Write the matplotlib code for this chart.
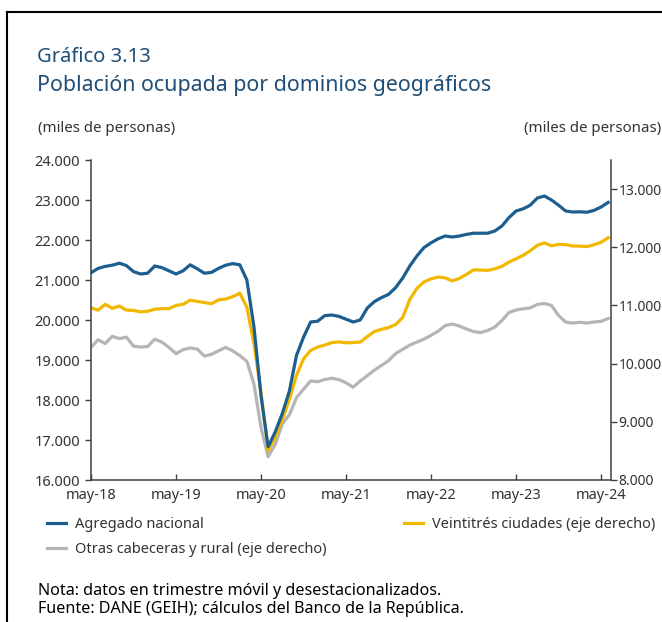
import numpy as np
import matplotlib.pyplot as plt
from matplotlib.lines import Line2D
from matplotlib.ticker import FuncFormatter

plt.rcParams['font.family'] = ['Noto Sans', 'DejaVu Sans']

# meses: may-18 ... jun-24 (trimestre movil)
etiquetas = ['may-18', 'may-19', 'may-20', 'may-21', 'may-22', 'may-23', 'may-24']
pos_etiquetas = [0, 12, 24, 36, 48, 60, 72]

# Agregado nacional (eje izquierdo, miles de personas)
nacional = [21180, 21290, 21340, 21370, 21420, 21360, 21210, 21150, 21170, 21350,
            21310, 21230, 21150, 21230, 21380, 21280, 21170, 21190, 21290, 21370,
            21410, 21380, 21000, 19830, 18100, 16830, 17200, 17660, 18220, 19110,
            19570, 19950, 19970, 20110, 20125, 20090, 20020, 19950, 20000, 20300,
            20460, 20560, 20640, 20810, 21050, 21350, 21600, 21810, 21930, 22030,
            22100, 22075, 22100, 22140, 22170, 22170, 22170, 22225, 22350, 22560,
            22725, 22780, 22870, 23050, 23100, 23000, 22870, 22725, 22700, 22705,
            22695, 22740, 22825, 22940]

# Veintitres ciudades (eje derecho)
ciudades = [10960, 10920, 11020, 10950, 10990, 10920, 10915, 10890, 10900, 10935,
            10945, 10945, 11000, 11020, 11090, 11070, 11050, 11030, 11095, 11110,
            11150, 11210, 10970, 10340, 9510, 8500, 8731, 9036, 9379, 9796,
            10081, 10227, 10286, 10319, 10362, 10374, 10358, 10362, 10370, 10465,
            10552, 10590, 10620, 10672, 10793, 11103, 11293, 11405, 11457, 11488,
            11474, 11422, 11465, 11534, 11612, 11608, 11603, 11629, 11672, 11746,
            11802, 11862, 11940, 12034, 12075, 12025, 12050, 12046, 12022, 12020,
            12012, 12043, 12086, 12164]

# Otras cabeceras y rural (eje derecho)
otras = [10280, 10410, 10345, 10470, 10430, 10455, 10300, 10285, 10295, 10420,
         10370, 10280, 10170, 10240, 10270, 10250, 10130, 10160, 10220, 10280,
         10220, 10140, 10040, 9650, 8900, 8400, 8607, 8965, 9121, 9414,
         9562, 9702, 9690, 9727, 9750, 9724, 9672, 9595, 9702, 9793,
         9888, 9969, 10052, 10172, 10245, 10319, 10370, 10422, 10486, 10557,
         10655, 10681, 10646, 10595, 10552, 10534, 10569, 10629, 10741, 10879,
         10922, 10943, 10957, 11017, 11034, 11000, 10827, 10715, 10698, 10710,
         10698, 10715, 10727, 10776]

azul = '#1c5f8e'
amarillo = '#f2b800'
gris = '#b5b5b5'
texto = '#333333'
eje = '#404040'

fig = plt.figure(figsize=(6.62, 6.22), dpi=100)
ax = fig.add_axes([91/662, 1-480/622, 520/662, 320/622])
ax2 = ax.twinx()

x = np.arange(len(nacional))
l3, = ax2.plot(x, otras, color=gris, lw=2.3, solid_joinstyle='round')
l2, = ax2.plot(x, ciudades, color=amarillo, lw=2.3, solid_joinstyle='round')
l1, = ax.plot(x, nacional, color=azul, lw=2.3, solid_joinstyle='round')
ax.set_zorder(ax2.get_zorder() + 1)
ax.patch.set_visible(False)

ax.set_xlim(0, 73.4)
ax.set_ylim(16000, 24000)
ax2.set_ylim(8000, 13500)
ax.set_yticks(range(16000, 24001, 1000))
ax2.set_yticks(range(8000, 13001, 1000))
fmt = FuncFormatter(lambda v, p: f'{v:,.0f}'.replace(',', '.'))
ax.yaxis.set_major_formatter(fmt)
ax2.yaxis.set_major_formatter(fmt)
ax.set_xticks(pos_etiquetas)
ax.set_xticklabels(etiquetas)

for a in (ax, ax2):
    a.spines['top'].set_visible(False)
    for s in ('left', 'right', 'bottom'):
        a.spines[s].set_color(eje)
        a.spines[s].set_linewidth(1.1)
ax.spines['right'].set_visible(False)
ax2.spines['left'].set_visible(False)
ax2.spines['bottom'].set_visible(False)

ax.tick_params(axis='y', length=4, width=1, color=eje, labelsize=10.5, labelcolor=texto, pad=4)
ax2.tick_params(axis='y', length=4, width=1, color=eje, labelsize=10, labelcolor=texto, pad=1.5)
ax.tick_params(axis='x', direction='in', length=4, width=1, color=eje, labelsize=10.5,
               labelcolor=texto, pad=6)

# marco
fig.add_artist(Line2D([7/662, 7/662], [0, 1-12/622], transform=fig.transFigure, color='black', lw=1.5))
fig.add_artist(Line2D([7/662, 1], [1-12/622, 1-12/622], transform=fig.transFigure, color='black', lw=1.5))

titulo = '#1f4f78'
fig.text(37/662, 1-57/622, 'Gráfico 3.13', fontsize=14.5, color=titulo, va='center')
fig.text(37/662, 1-86/622, 'Población ocupada por dominios geográficos', fontsize=15.4, color=titulo, va='center')
fig.text(38/662, 1-129/622, '(miles de personas)', fontsize=10.8, color=texto, va='center')
fig.text(661/662, 1-129/622, '(miles de personas)', fontsize=10.8, color=texto, va='center', ha='right')

fig.legend([l1, l3, l2],
           ['Agregado nacional', 'Otras cabeceras y rural (eje derecho)', 'Veintitrés ciudades (eje derecho)'],
           ncol=2, loc='upper left', bbox_to_anchor=(40/662, 1-510/622), frameon=False,
           fontsize=10.5, handlelength=1.3, handletextpad=0.6, columnspacing=5.3,
           labelspacing=0.65, labelcolor=texto, borderpad=0)

fig.text(38/662, 1-591/622, 'Nota: datos en trimestre móvil y desestacionalizados.', fontsize=11.6, color='black', va='center')
fig.text(38/662, 1-609/622, 'Fuente: DANE (GEIH); cálculos del Banco de la República.', fontsize=11.6, color='black', va='center')

fig.savefig('out.png', dpi=100)
